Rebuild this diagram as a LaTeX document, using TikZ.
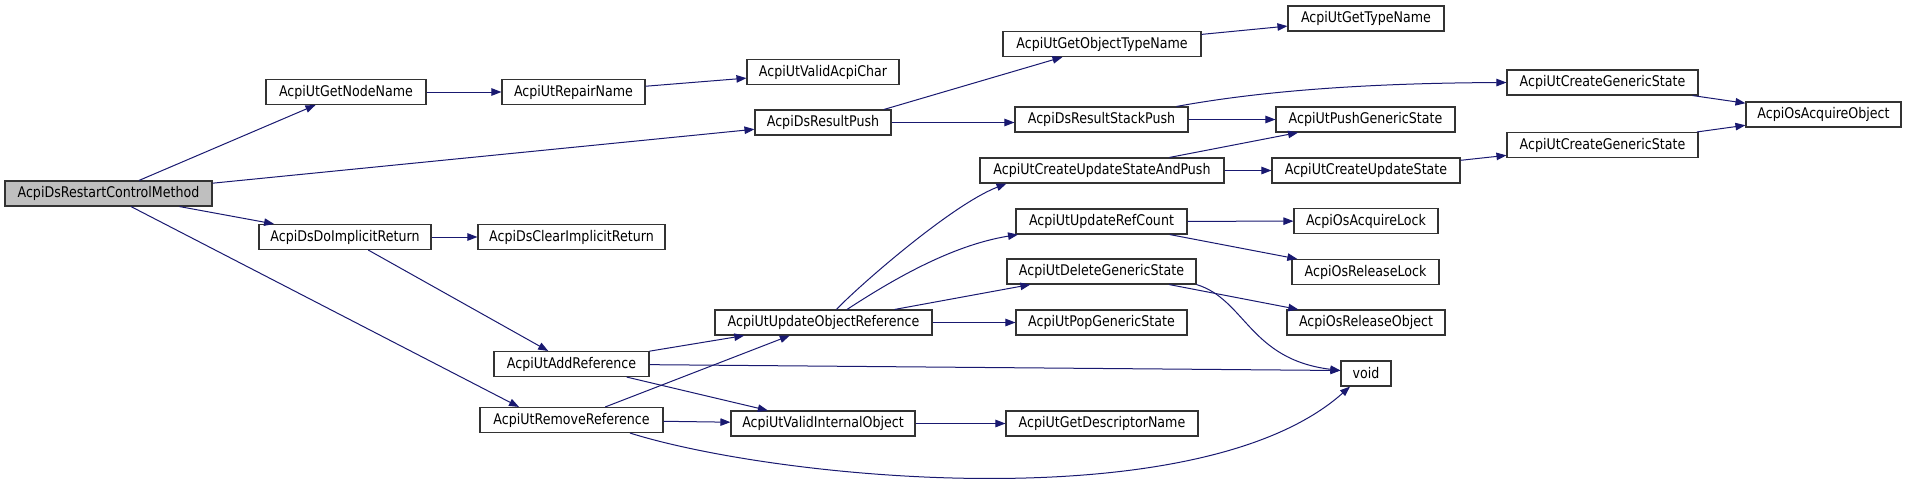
\documentclass[tikz,border=0pt]{standalone}
\usepackage{fontspec}
\usepackage{xcolor}
\usepackage{tikz}
\usetikzlibrary{arrows.meta,calc}
\newfontfamily\graphfont{DejaVu Sans}[FakeStretch=0.86]
\definecolor{callBlue}{HTML}{191970}
\definecolor{boxEdge}{HTML}{333333}
\definecolor{rootGrey}{HTML}{BFBFBF}
\tikzset{
  fnbox/.style={draw=boxEdge, line width=1.1pt, fill=white, inner sep=0pt, minimum height=25pt, minimum width=#1, font={\graphfont\fontsize{14.7pt}{16pt}\selectfont}},
  fnroot/.style={fnbox=#1, fill=rootGrey},
  call/.style={-{Triangle[length=10pt,width=7.5pt]}, draw=callBlue, line width=1pt},
}
\begin{document}
\begin{tikzpicture}[x=1pt,y=-1pt]
\useasboundingbox (0,0) rectangle (1907,480);
% rank 0
\node[fnroot=207pt] (restart) at (108.5,193.5) {AcpiDsRestartControlMethod};
% rank 1
\node[fnbox=160pt] (nodename) at (346,92) {AcpiUtGetNodeName};
\node[fnbox=172pt] (implicit) at (345,237) {AcpiDsDoImplicitReturn};
% rank 2
\node[fnbox=143pt] (repairname) at (573.5,92) {AcpiUtRepairName};
\node[fnbox=187pt] (clearimplicit) at (571.5,237) {AcpiDsClearImplicitReturn};
\node[fnbox=155pt] (addref) at (571.5,364) {AcpiUtAddReference};
\node[fnbox=183pt] (removeref) at (571.5,420) {AcpiUtRemoveReference};
% rank 3
\node[fnbox=152pt] (validchar) at (823,72) {AcpiUtValidAcpiChar};
\node[fnbox=136pt] (resultpush) at (823,122.5) {AcpiDsResultPush};
\node[fnbox=217pt] (updobjref) at (823.5,322.5) {AcpiUtUpdateObjectReference};
\node[fnbox=184pt] (validobj) at (823,423.5) {AcpiUtValidInternalObject};
% rank 4
\node[fnbox=198pt] (objtypename) at (1102,44) {AcpiUtGetObjectTypeName};
\node[fnbox=173pt] (stackpush) at (1101.5,119.5) {AcpiDsResultStackPush};
\node[fnbox=244pt] (updpush) at (1102,170.5) {AcpiUtCreateUpdateStateAndPush};
\node[fnbox=171pt] (refcount) at (1101.5,221.5) {AcpiUtUpdateRefCount};
\node[fnbox=189pt] (deletegeneric) at (1101.5,271.5) {AcpiUtDeleteGenericState};
\node[fnbox=171pt] (popgeneric) at (1101.5,322.5) {AcpiUtPopGenericState};
\node[fnbox=192pt] (descname) at (1102,423.5) {AcpiUtGetDescriptorName};
% rank 5
\node[fnbox=156pt] (typename) at (1366,18.5) {AcpiUtGetTypeName};
\node[fnbox=179pt] (pushgeneric) at (1365.5,119.5) {AcpiUtPushGenericState};
\node[fnbox=188pt] (updstate) at (1366,170.5) {AcpiUtCreateUpdateState};
\node[fnbox=144pt] (acquirelock) at (1366,221) {AcpiOsAcquireLock};
\node[fnbox=147pt] (releaselock) at (1365.5,272) {AcpiOsReleaseLock};
\node[fnbox=158pt] (releaseobj) at (1366,322.5) {AcpiOsReleaseObject};
\node[fnbox=50pt] (void) at (1366,373.5) {void};
% rank 6
\node[fnbox=191pt] (creategenA) at (1602.5,82.5) {AcpiUtCreateGenericState};
\node[fnbox=191pt] (creategenB) at (1602.5,145) {AcpiUtCreateGenericState};
% rank 7
\node[fnbox=155pt] (acquireobj) at (1823.5,114.5) {AcpiOsAcquireObject};

% calls
\draw[call] (restart) -- (nodename);
\draw[call] (restart) -- (resultpush);
\draw[call] (restart) -- (implicit);
\draw[call] ([xshift=22.5pt]restart.south) -- ([xshift=-52.5pt]removeref.north);
\draw[call] (nodename) -- (repairname);
\draw[call] (repairname) -- (validchar);
\draw[call] ([xshift=61pt]resultpush.north) -- ([xshift=-39.5pt]objtypename.south);
\draw[call] (resultpush.east) -- (resultpush.east -| stackpush.west);
\draw[call] (objtypename) -- (typename);
\draw[call] ([xshift=75pt]stackpush.north) .. controls +(103.5,-19) and +(-107,0.5) .. (creategenA.west);
\draw[call] (stackpush) -- (pushgeneric);
\draw[call] (creategenA) -- (acquireobj);
\draw[call] (updpush) -- (pushgeneric);
\draw[call] (updpush) -- (updstate);
\draw[call] (updstate) -- (creategenB);
\draw[call] (creategenB) -- (acquireobj);
\draw[call] (implicit) -- (clearimplicit);
\draw[call] (implicit) -- (addref);
\draw[call] (addref) -- (updobjref);
\draw[call] (addref) -- ([yshift=3pt]void.west);
\draw[call] (addref) -- (validobj);
\draw[call] (removeref) -- (updobjref);
\draw[call] (removeref) -- (validobj);
\draw[call] ([xshift=58.5pt]removeref.south) .. controls +(150,47) and +(-150,134) .. ([xshift=-16pt]void.south);
\draw[call] ([xshift=13pt]updobjref.north) .. controls +(18.5,-20) and +(-56.5,22) .. ([xshift=-95.5pt]updpush.south);
\draw[call] ([xshift=23.5pt]updobjref.north) .. controls +(43,-28) and +(-68,11) .. ([xshift=-83.5pt]refcount.south);
\draw[call] (updobjref) -- (deletegeneric);
\draw[call] (updobjref) -- (popgeneric);
\draw[call] (refcount) -- (acquirelock);
\draw[call] (refcount) -- (releaselock);
\draw[call] (deletegeneric) -- (releaseobj);
\draw[call] (deletegeneric.south east) .. controls +(49,15) and +(-91,-11) .. ([yshift=3pt]void.west);
\draw[call] (validobj) -- (descname);
\end{tikzpicture}
\end{document}
